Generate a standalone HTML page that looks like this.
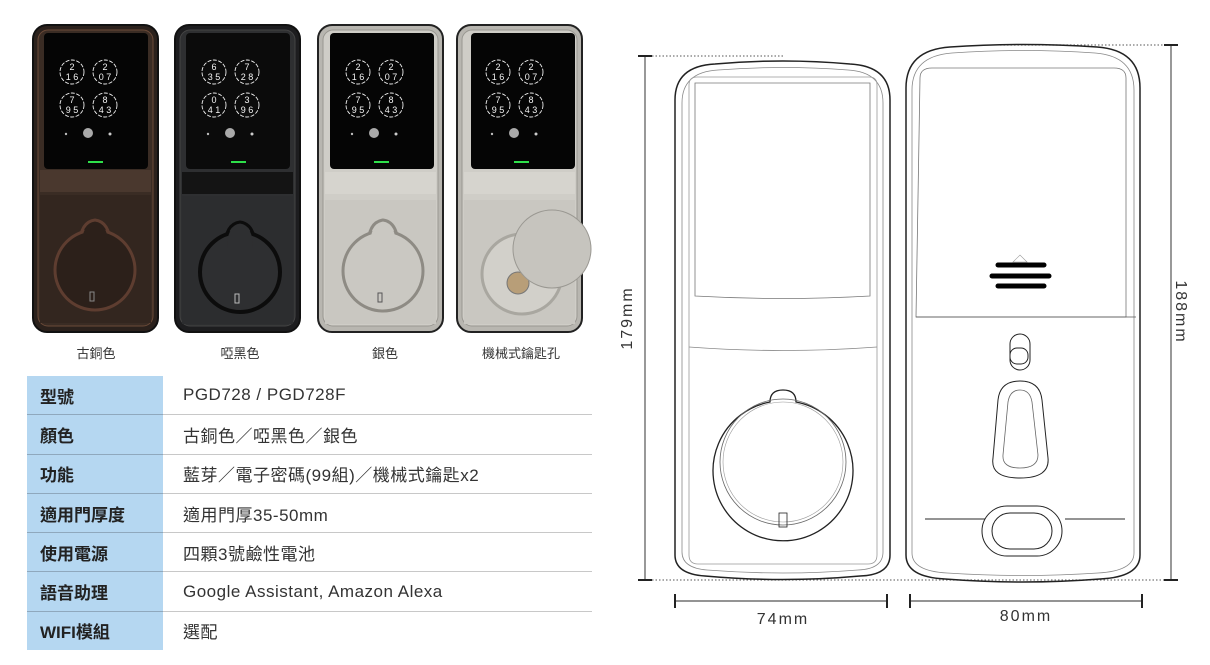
<!DOCTYPE html>
<html><head><meta charset="utf-8"><style>
html,body{margin:0;padding:0;background:#fff;width:1210px;height:665px;overflow:hidden;font-family:"Liberation Sans","Noto Sans CJK TC",sans-serif}
.lbl{position:absolute;top:343px;font-size:13px;color:#333;text-align:center;width:140px}
table{position:absolute;left:27px;top:376px;border-collapse:collapse;width:565px}
td{height:38.3px;border-bottom:1.5px solid #c8c8c8;padding:0;font-size:17px;color:#333}
td.k{background:#b5d7f1;width:136px;font-weight:bold;color:#222;padding-left:13px;box-sizing:border-box;border-bottom-color:#8fa8bd}
td.v{padding-left:20px;letter-spacing:0.5px}
tr:last-child td{border-bottom:none}
</style></head><body>
<svg width="600" height="340" style="position:absolute;left:0;top:0">
<defs>
<g id="keys" fill="none" stroke="#eee" stroke-width="0.9">
<circle cx="0" cy="0" r="12" stroke-dasharray="4 1.5"/><circle cx="33" cy="0" r="12" stroke-dasharray="4 1.5"/>
<circle cx="0" cy="33" r="12" stroke-dasharray="4 1.5"/><circle cx="33" cy="33" r="12" stroke-dasharray="4 1.5"/>
<circle cx="16" cy="61" r="5" fill="#aaa" stroke="none"/>
<circle cx="-6" cy="62" r="1.2" fill="#bbb" stroke="none"/><circle cx="38" cy="62" r="1.5" fill="#ccc" stroke="none"/>
</g>
</defs>
<!-- lock 1 -->
<rect x="33" y="25" width="125" height="307" rx="14" fill="#2b211c" stroke="#111" stroke-width="2"/>
<rect x="38" y="30" width="115" height="296" rx="10" fill="#3a2c24" stroke="#6b4a38"/>
<rect x="44" y="33" width="104" height="136" rx="4" fill="#050505"/>
<rect x="40" y="170" width="111" height="22" fill="#4a382e"/>
<rect x="40" y="195" width="111" height="128" fill="#33261f"/>
<path d="M80 245 Q80 222 95 220 Q110 222 110 245 Z" fill="#2c201a" stroke="#5e3d30" stroke-width="3"/>
<circle cx="95" cy="270" r="40" fill="#2c201a" stroke="#5e3d30" stroke-width="3"/>
<path d="M82 245 Q82 224 95 222 Q108 224 108 245 Z" fill="#2c201a"/>
<rect x="90" y="292" width="4" height="9" fill="none" stroke="#888"/>
<!-- lock 2 -->
<rect x="175" y="25" width="125" height="307" rx="14" fill="#1d1d1f" stroke="#111" stroke-width="2"/>
<rect x="180" y="30" width="115" height="296" rx="10" fill="#2e2f31" stroke="#444"/>
<rect x="186" y="33" width="104" height="136" rx="4" fill="#0b0b0b"/>
<rect x="182" y="172" width="111" height="22" fill="#141414"/>
<rect x="182" y="196" width="111" height="128" fill="#2c2d2f"/>
<path d="M225 248 Q225 224 240 222 Q255 224 255 248 Z" fill="#2e2f31" stroke="#0c0c0c" stroke-width="3"/>
<circle cx="240" cy="272" r="40" fill="#2e2f31" stroke="#0c0c0c" stroke-width="4"/>
<path d="M227 248 Q227 226 240 224 Q253 226 253 248 Z" fill="#2e2f31"/>
<rect x="235" y="294" width="4" height="9" fill="none" stroke="#bbb"/>
<!-- lock 3 -->
<rect x="318" y="25" width="125" height="307" rx="14" fill="#b8b6b0" stroke="#222" stroke-width="2"/>
<rect x="323" y="30" width="115" height="296" rx="10" fill="#cfcdc7" stroke="#9a9892"/>
<rect x="330" y="33" width="104" height="136" rx="4" fill="#050505"/>
<rect x="325" y="172" width="111" height="22" fill="#d6d4ce"/>
<rect x="325" y="200" width="111" height="124" fill="#c9c7c1"/>
<path d="M368 247 Q368 222 383 220 Q398 222 398 247 Z" fill="#cac8c2" stroke="#8e8b84" stroke-width="3"/>
<circle cx="383" cy="271" r="40" fill="#cac8c2" stroke="#8e8b84" stroke-width="3"/>
<path d="M370 247 Q370 224 383 222 Q396 224 396 247 Z" fill="#cac8c2"/>
<rect x="378" y="293" width="4" height="9" fill="none" stroke="#555"/>
<!-- lock 4 -->
<rect x="457" y="25" width="125" height="307" rx="14" fill="#b8b6b0" stroke="#222" stroke-width="2"/>
<rect x="462" y="30" width="115" height="296" rx="10" fill="#cfcdc7" stroke="#9a9892"/>
<rect x="471" y="33" width="104" height="136" rx="4" fill="#050505"/>
<rect x="464" y="172" width="111" height="22" fill="#d6d4ce"/>
<rect x="464" y="200" width="111" height="124" fill="#c9c7c1"/>
<circle cx="522" cy="274" r="40" fill="#d2d0ca" stroke="#a9a7a0" stroke-width="3"/>
<circle cx="518" cy="283" r="11" fill="#b89e78" stroke="#777"/>
<circle cx="552" cy="249" r="39" fill="#c6c4be" stroke="#9a9892"/>
<!-- keypads -->
<g transform="translate(72,72)"><use href="#keys"/></g>
<g transform="translate(214,72)"><use href="#keys"/></g>
<g transform="translate(358,72)"><use href="#keys"/></g>
<g transform="translate(498,72)"><use href="#keys"/></g>
<g font-family="Liberation Sans" font-size="9" fill="#f4f4f4" text-anchor="middle">
<text x="72" y="70">2</text><text x="105" y="70">2</text><text x="72" y="103">7</text><text x="105" y="103">8</text>
<text x="214" y="70">6</text><text x="247" y="70">7</text><text x="214" y="103">0</text><text x="247" y="103">3</text>
<text x="358" y="70">2</text><text x="391" y="70">2</text><text x="358" y="103">7</text><text x="391" y="103">8</text>
<text x="498" y="70">2</text><text x="531" y="70">2</text><text x="498" y="103">7</text><text x="531" y="103">8</text>
<text x="72" y="80">1 6</text><text x="105" y="80">0 7</text><text x="72" y="113">9 5</text><text x="105" y="113">4 3</text>
<text x="214" y="80">3 5</text><text x="247" y="80">2 8</text><text x="214" y="113">4 1</text><text x="247" y="113">9 6</text>
<text x="358" y="80">1 6</text><text x="391" y="80">0 7</text><text x="358" y="113">9 5</text><text x="391" y="113">4 3</text>
<text x="498" y="80">1 6</text><text x="531" y="80">0 7</text><text x="498" y="113">9 5</text><text x="531" y="113">4 3</text>
</g>
<g fill="#2ee04a"><rect x="88" y="161" width="15" height="2"/><rect x="231" y="161" width="15" height="2"/><rect x="374" y="161" width="15" height="2"/><rect x="514" y="161" width="15" height="2"/></g>
</svg>
<div class="lbl" style="left:26px">古銅色</div>
<div class="lbl" style="left:170px">啞黑色</div>
<div class="lbl" style="left:315px">銀色</div>
<div class="lbl" style="left:451px">機械式鑰匙孔</div>

<table>
<tr><td class="k">型號</td><td class="v">PGD728 / PGD728F</td></tr>
<tr><td class="k">顏色</td><td class="v">古銅色／啞黑色／銀色</td></tr>
<tr><td class="k">功能</td><td class="v">藍芽／電子密碼(99組)／機械式鑰匙x2</td></tr>
<tr><td class="k">適用門厚度</td><td class="v">適用門厚35-50mm</td></tr>
<tr><td class="k">使用電源</td><td class="v">四顆3號鹼性電池</td></tr>
<tr><td class="k">語音助理</td><td class="v">Google Assistant, Amazon Alexa</td></tr>
<tr><td class="k">WIFI模組</td><td class="v">選配</td></tr>
</table>

<svg width="1210" height="665" style="position:absolute;left:0;top:0" fill="none" stroke="#222" stroke-width="1.2" font-family="Liberation Sans">
<line x1="645" y1="56" x2="645" y2="580" stroke="#555"/>
<line x1="638" y1="56" x2="652" y2="56" stroke-width="2"/><line x1="638" y1="580" x2="652" y2="580" stroke-width="2"/>
<line x1="652" y1="56" x2="785" y2="56" stroke="#777" stroke-dasharray="1.5 2"/>
<line x1="652" y1="580" x2="1165" y2="580" stroke="#777" stroke-dasharray="1.5 2"/>
<line x1="1171" y1="45" x2="1171" y2="580" stroke="#555"/>
<line x1="1164" y1="45" x2="1178" y2="45" stroke-width="2"/><line x1="1164" y1="580" x2="1178" y2="580" stroke-width="2"/>
<line x1="1000" y1="45" x2="1164" y2="45" stroke="#777" stroke-dasharray="1.5 2"/>
<line x1="675" y1="601" x2="887" y2="601" stroke="#555"/>
<line x1="675" y1="594" x2="675" y2="608" stroke-width="2"/><line x1="887" y1="594" x2="887" y2="608" stroke-width="2"/>
<line x1="910" y1="601" x2="1142" y2="601" stroke="#555"/>
<line x1="910" y1="594" x2="910" y2="608" stroke-width="2"/><line x1="1142" y1="594" x2="1142" y2="608" stroke-width="2"/>
<g fill="#333" stroke="none" font-size="16" letter-spacing="2">
<text x="783" y="624" text-anchor="middle">74mm</text>
<text x="1026" y="621" text-anchor="middle">80mm</text>
<text transform="translate(632,318) rotate(-90)" text-anchor="middle">179mm</text>
<text transform="translate(1176,312) rotate(90)" text-anchor="middle">188mm</text>
</g>
<path d="M675 100 Q675 66 715 64 Q783 58 850 64 Q890 66 890 100 L890 555 Q890 575 860 576 Q783 583 705 576 Q675 574 675 555 Z" stroke-width="1.5"/>
<path d="M682 103 Q682 72 718 70 Q783 65 848 70 Q883 72 883 103 L883 552 Q883 569 858 570 Q783 576 707 570 Q682 568 682 552 Z" stroke="#888" stroke-width="0.8"/>
<path d="M689 85 Q689 77 697 77 L869 77 Q877 77 877 85 L877 555 Q877 564 868 564 L698 564 Q689 564 689 555 Z" stroke="#999" stroke-width="0.8"/>
<path d="M695 83 L870 83 L870 296 Q783 301 695 296 Z" stroke="#777" stroke-width="0.8"/>
<path d="M689 347 Q783 354 877 347" stroke="#888" stroke-width="0.8"/>
<path d="M770 402 Q770 390 783 390 Q796 390 796 402 A70 70 0 1 1 770 402 Z" stroke-width="1.3"/>
<circle cx="783" cy="462" r="63" stroke="#666" stroke-width="0.8"/>
<circle cx="783" cy="462" r="60" stroke="#999" stroke-width="0.6"/>
<rect x="779" y="513" width="8" height="14" stroke-width="0.8"/>
<path d="M906 88 Q906 50 950 47 Q1023 42 1097 47 Q1140 50 1140 88 L1140 555 Q1140 577 1100 579 Q1023 585 945 579 Q906 577 906 555 Z" stroke-width="1.5"/>
<path d="M912 90 Q912 56 952 53 Q1023 48 1095 53 Q1134 56 1134 90 L1134 553 Q1134 571 1098 573 Q1023 578 947 573 Q912 571 912 553 Z" stroke="#888" stroke-width="0.8"/>
<path d="M920 78 Q920 68 932 68 L1114 68 Q1126 68 1126 78 L1126 317 L916 317 Z" stroke="#777" stroke-width="0.8"/>
<line x1="916" y1="317" x2="1136" y2="317" stroke="#555" stroke-width="0.8"/>
<path d="M1013 262 L1020 255 L1027 262 Z" stroke="#999" stroke-width="0.6"/>
<g stroke="#000" stroke-width="5" stroke-linecap="round">
<line x1="998" y1="265" x2="1044" y2="265"/><line x1="992" y1="276" x2="1049" y2="276"/><line x1="998" y1="286" x2="1044" y2="286"/>
</g>
<rect x="1010" y="334" width="20" height="36" rx="10" stroke-width="1"/>
<rect x="1010" y="348" width="18" height="16" rx="7" stroke-width="1"/>
<path d="M1020 381 Q1040 381 1042 400 L1048 458 Q1050 478 1020 478 Q990 478 993 458 L998 400 Q1000 381 1020 381 Z" stroke-width="1"/>
<path d="M1020 390 Q1030 390 1032 402 L1038 455 Q1038 468 1020 468 Q1002 468 1003 455 L1008 402 Q1010 390 1020 390 Z" stroke="#666" stroke-width="0.8"/>
<line x1="925" y1="519" x2="985" y2="519" stroke="#555"/><line x1="1065" y1="519" x2="1125" y2="519" stroke="#555"/>
<rect x="982" y="506" width="80" height="50" rx="25" stroke-width="1"/>
<rect x="992" y="513" width="60" height="36" rx="18" stroke-width="1"/>
</svg>
</body></html>
